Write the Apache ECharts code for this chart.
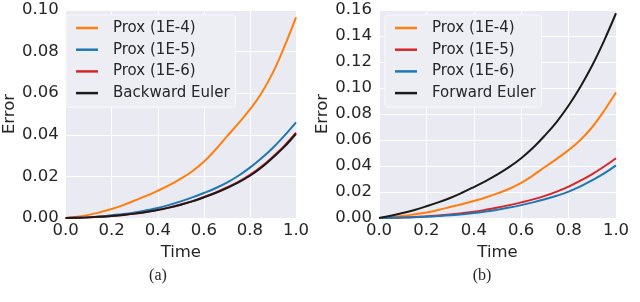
<!DOCTYPE html>
<html>
<head>
<meta charset="utf-8">
<script src="https://cdn.jsdelivr.net/npm/echarts@6/dist/echarts.min.js"></script>
<style>html,body{margin:0;padding:0;background:#fff}#c{width:640px;height:302px}</style>
</head>
<body>
<div id="c"></div>
<script>
const time = [0,0.05,0.1,0.15,0.2,0.25,0.3,0.35,0.4,0.45,0.5,0.55,0.6,0.65,0.7,0.75,0.8,0.85,0.9,0.95,1.0];
const prox1e4 = [0,0.0006,0.0015,0.0028,0.0043,0.0062,0.0084,0.0106,0.0131,0.0158,0.0189,0.0225,0.0270,0.0328,0.0392,0.0455,0.0522,0.0600,0.0700,0.0825,0.0965];
const prox1e5 = [0,0.0001,0.0003,0.0007,0.0013,0.0019,0.0027,0.0037,0.0048,0.0063,0.0080,0.0099,0.0120,0.0143,0.0170,0.0203,0.0242,0.0287,0.0338,0.0396,0.0460];
const prox1e6 = [0,0.0001,0.0003,0.0006,0.0010,0.0015,0.0021,0.0029,0.0039,0.0051,0.0065,0.0081,0.0101,0.0122,0.0147,0.0174,0.0207,0.0247,0.0295,0.0348,0.0410];
const backwardEuler = [0,0.0001,0.0003,0.0006,0.0010,0.0015,0.0021,0.0029,0.0038,0.0050,0.0064,0.0080,0.0099,0.0120,0.0144,0.0171,0.0203,0.0243,0.0291,0.0343,0.0405];
const forwardEuler = [0,0.0017,0.0038,0.0062,0.0090,0.0120,0.0154,0.0194,0.0238,0.0284,0.0335,0.0393,0.0460,0.0540,0.0635,0.0740,0.0865,0.1010,0.1175,0.1365,0.1575];
const xTicks = {min:0, max:1, interval:0.2};
const yTicksA = {min:0, max:0.10, interval:0.02};
const yTicksB = {min:0, max:0.16, interval:0.02};
const legendA = ['Prox (1E-4)','Prox (1E-5)','Prox (1E-6)','Backward Euler'];
const legendB = ['Prox (1E-4)','Prox (1E-5)','Prox (1E-6)','Forward Euler'];
const captions = ['(a)','(b)'];

const ORANGE='#ff7f0e', BLUE='#1f77b4', RED='#d62728', BLACK='#1a1a1a';
const TXT='#262626';
const FONT='DejaVu Sans';

function pts(ys){ return time.map((t,i)=>[t, ys[i]]); }
function line(name, ys, color, g){
  return {type:'line', name, data:pts(ys), xAxisIndex:g, yAxisIndex:g, showSymbol:false, symbol:'none',
    smooth:0.4, lineStyle:{color, width:2}, itemStyle:{color}, animation:false, z:2};
}
function xAx(g){
  return {type:'value', gridIndex:g, min:xTicks.min, max:xTicks.max, interval:xTicks.interval,
    name:'Time', nameLocation:'middle', nameGap:21, nameTextStyle:{color:TXT, fontFamily:FONT, fontSize:16.5},
    axisLine:{show:false}, axisTick:{show:false},
    axisLabel:{color:TXT, fontFamily:FONT, fontSize:16.5, margin:4, formatter:v=>v.toFixed(1)},
    splitLine:{show:true, lineStyle:{color:'#ffffff', width:1}}};
}
function yAx(g, t){
  return {type:'value', gridIndex:g, min:t.min, max:t.max, interval:t.interval,
    name:'Error', nameLocation:'middle', nameGap:46, nameTextStyle:{color:TXT, fontFamily:FONT, fontSize:16.5},
    axisLine:{show:false}, axisTick:{show:false},
    axisLabel:{color:TXT, fontFamily:FONT, fontSize:16.5, margin:7, formatter:v=>v.toFixed(2)},
    splitLine:{show:true, lineStyle:{color:'#ffffff', width:1}}};
}
function leg(names, colors, left){
  return {orient:'vertical', left, top:15, icon:'rect', itemWidth:22, itemHeight:2.5, itemGap:5.7,
    padding:[5,6,6,10], backgroundColor:'#EDEDF4', borderColor:'#F8F8FB', borderWidth:1, borderRadius:3,
    textStyle:{color:TXT, fontFamily:FONT, fontSize:15, lineHeight:16, padding:[0,0,0,10]},
    selectedMode:false,
    data:names.map((n,i)=>({name:n, itemStyle:{color:colors[i]}}))};
}

const chart = echarts.init(document.getElementById('c'), null, {renderer:'canvas'});
chart.setOption({
  animation:false,
  backgroundColor:'#ffffff',
  grid:[
    {left:59, right:344, top:10, bottom:84, show:true, backgroundColor:'#EAEAF2', borderWidth:0},
    {left:379, right:24, top:10, bottom:84, show:true, backgroundColor:'#EAEAF2', borderWidth:0}
  ],
  xAxis:[xAx(0), xAx(1)],
  yAxis:[yAx(0, yTicksA), yAx(1, yTicksB)],
  legend:[leg(legendA,[ORANGE,BLUE,RED,BLACK],66), leg(legendB,[ORANGE,RED,BLUE,BLACK],385)],
  series:[
    line('Prox (1E-4)', prox1e4, ORANGE, 0),
    line('Prox (1E-5)', prox1e5, BLUE, 0),
    line('Prox (1E-6)', prox1e6, RED, 0),
    line('Backward Euler', backwardEuler, BLACK, 0),
    line('Prox (1E-4)', prox1e4, ORANGE, 1),
    line('Prox (1E-5)', prox1e5, RED, 1),
    line('Prox (1E-6)', backwardEuler, BLUE, 1),
    line('Forward Euler', forwardEuler, BLACK, 1)
  ],
  graphic:[
    {type:'text', x:158, y:276, style:{text:captions[0], fill:TXT, font:'16px "Liberation Serif"', align:'center', verticalAlign:'middle'}},
    {type:'text', x:482, y:276, style:{text:captions[1], fill:TXT, font:'16px "Liberation Serif"', align:'center', verticalAlign:'middle'}}
  ]
});
</script>
</body>
</html>
